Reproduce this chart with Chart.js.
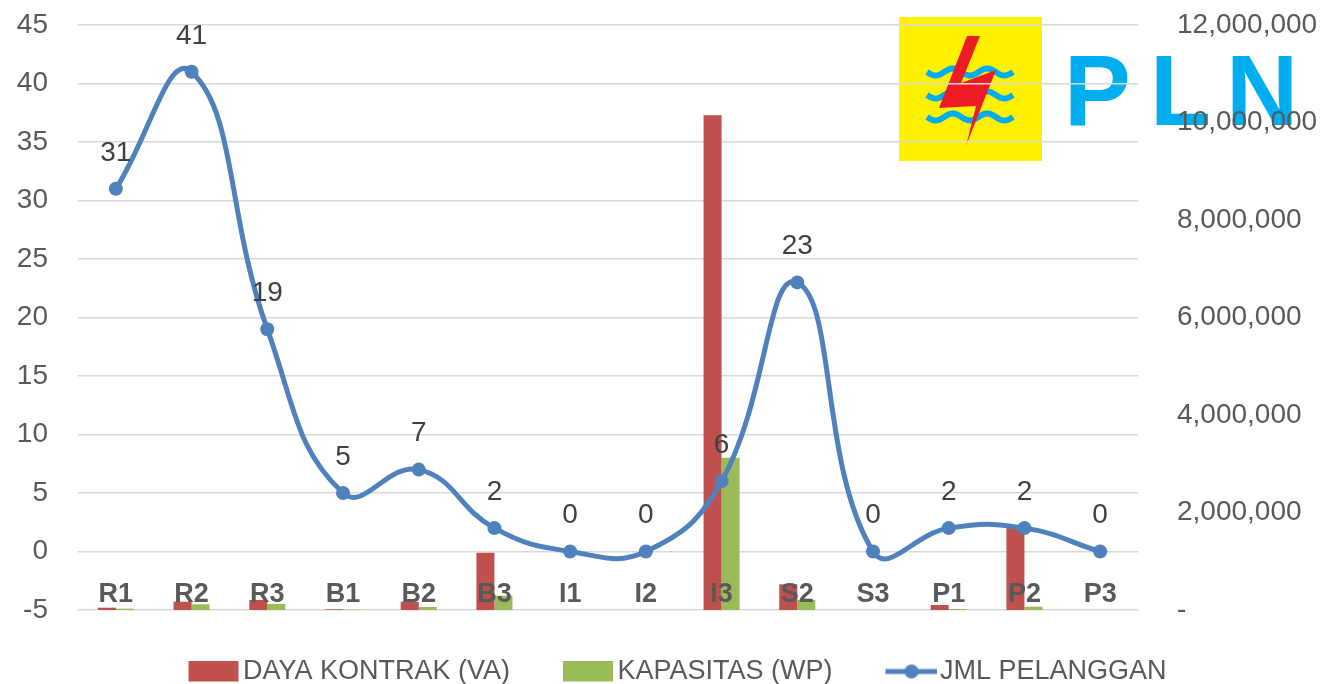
<!DOCTYPE html>
<html>
<head>
<meta charset="utf-8">
<script src="https://cdn.jsdelivr.net/npm/chart.js@4.4.1/dist/chart.umd.min.js"></script>
<style>
  html, body { margin: 0; padding: 0; background: #fff; }
  #wrap { width: 1324px; height: 684px; position: relative; }
</style>
</head>
<body>
<div id="wrap"><canvas id="chart"></canvas></div>
<script>
// categories and series
const categories = ['R1', 'R2', 'R3', 'B1', 'B2', 'B3', 'I1', 'I2', 'I3', 'S2', 'S3', 'P1', 'P2', 'P3'];
const dayaKontrak = [47000, 170000, 205000, 15000, 170000, 1175000, 0, 0, 10150000, 527000, 0, 103000, 1710000, 0];
const kapasitas = [27000, 117000, 123000, 10000, 62000, 293000, 0, 0, 3125000, 205000, 0, 20000, 68000, 0];
const jmlPelanggan = [31, 41, 19, 5, 7, 2, 0, 0, 6, 23, 0, 2, 2, 0];

// axis ranges
const leftMin = -5, leftMax = 45, leftStep = 5;
const rightMin = 0, rightMax = 12000000, rightStep = 2000000;

const RED = '#C0504D';
const GREEN = '#9BBB59';
const BLUE = '#4F81BD';
const FONT = '"Liberation Sans", Arial, sans-serif';

// legend swatches: pointStyleWidth is 74, the swatch image is centred at x+37,
// so the box lands at x+33..x+83 and the text starts ~5px after it
function makeSwatch(kind, color) {
    const c = document.createElement('canvas');
    const g = c.getContext('2d');
    if (kind === 'box') {
        c.width = 94;
        c.height = 22;
        g.fillStyle = color;
        g.fillRect(43, 0, 50, 21);
    } else {
        c.width = 96;
        c.height = 16;
        g.strokeStyle = color;
        g.lineWidth = 5;
        g.beginPath();
        g.moveTo(44, 8);
        g.lineTo(96, 8);
        g.stroke();
        g.fillStyle = color;
        g.beginPath();
        g.arc(70, 8, 7, 0, Math.PI * 2);
        g.fill();
    }
    return c;
}
const swatches = [makeSwatch('box', RED), makeSwatch('box', GREEN), makeSwatch('line', BLUE)];

// PLN logo in the top right corner, behind the grid
const plnLogo = {
    id: 'plnLogo',
    beforeDraw(chart) {
        const ctx = chart.ctx;
        ctx.save();
        ctx.fillStyle = '#FFF200';
        ctx.fillRect(899, 17, 143, 144);

        // waves
        ctx.strokeStyle = '#00AEEF';
        ctx.lineWidth = 6;
        [72, 95, 117].forEach(yc => {
            ctx.beginPath();
            for (let x = 927; x <= 1013; x += 1) {
                const y = yc + 3.5 * Math.sin((x - 927) / 86 * Math.PI * 5);
                if (x === 927) ctx.moveTo(x, y); else ctx.lineTo(x, y);
            }
            ctx.stroke();
        });

        // bolt
        ctx.fillStyle = '#ED1C24';
        ctx.beginPath();
        ctx.moveTo(967, 36);
        ctx.lineTo(980, 36);
        ctx.lineTo(961, 83);
        ctx.lineTo(996, 70);
        ctx.lineTo(966, 146);
        ctx.lineTo(976, 106);
        ctx.lineTo(939, 108);
        ctx.closePath();
        ctx.fill();

        // letters
        ctx.fillStyle = '#00AEEF';
        ctx.font = 'bold 100px ' + FONT;
        ctx.textBaseline = 'alphabetic';
        ctx.textAlign = 'left';
        ctx.fillText('P', 1064, 125);
        ctx.fillText('L', 1150, 125);
        ctx.fillText('N', 1226, 125);
        ctx.restore();
    },
    afterLayout(chart) {
        // nudge the legend row a little to the left, as in the original
        chart.legend.left -= 2;
    }
};

// value labels above the line points
const lineLabels = {
    id: 'lineLabels',
    afterDatasetsDraw(chart) {
        const meta = chart.getDatasetMeta(2);
        const ctx = chart.ctx;
        ctx.save();
        ctx.font = '28px ' + FONT;
        ctx.fillStyle = '#404040';
        ctx.textAlign = 'center';
        ctx.textBaseline = 'middle';
        meta.data.forEach((pt, i) => {
            ctx.fillText(String(jmlPelanggan[i]), pt.x, pt.y - 36);
        });
        ctx.restore();
    }
};

const ctx = document.getElementById('chart').getContext('2d');
new Chart(ctx, {
    type: 'bar',
    data: {
        labels: categories,
        datasets: [
            {
                label: 'DAYA KONTRAK (VA)',
                data: dayaKontrak,
                backgroundColor: RED,
                yAxisID: 'y2',
                order: 2,
                categoryPercentage: 0.476,
                barPercentage: 1
            },
            {
                label: 'KAPASITAS (WP)',
                data: kapasitas,
                backgroundColor: GREEN,
                yAxisID: 'y2',
                order: 2,
                categoryPercentage: 0.476,
                barPercentage: 1
            },
            {
                type: 'line',
                label: 'JML PELANGGAN',
                data: jmlPelanggan,
                borderColor: BLUE,
                backgroundColor: BLUE,
                borderWidth: 5,
                pointRadius: 7,
                pointBackgroundColor: BLUE,
                pointBorderWidth: 0,
                tension: 0.45,
                fill: false,
                yAxisID: 'y',
                order: 0
            }
        ]
    },
    options: {
        responsive: true,
        maintainAspectRatio: false,
        animation: false,
        layout: { padding: { top: 25, left: 0, right: 0, bottom: -11 } },
        scales: {
            x: {
                grid: { display: false, drawTicks: false },
                border: { display: false },
                ticks: {
                    z: 1,
                    color: '#595959',
                    font: { family: FONT, size: 27, weight: 'bold' },
                    mirror: true,
                    padding: -1,
                    maxRotation: 0,
                    autoSkip: false
                },
                afterFit: s => { s.height = 28; }
            },
            y: {
                position: 'left',
                min: leftMin,
                max: leftMax,
                grid: { color: '#D9D9D9', lineWidth: 1.5, drawTicks: true, tickLength: 30, tickColor: 'rgba(0,0,0,0)' },
                border: { display: false },
                ticks: {
                    stepSize: leftStep,
                    color: '#595959',
                    font: { family: FONT, size: 28 },
                    padding: 0
                },
                afterFit: s => { s.width = 78; }
            },
            y2: {
                position: 'right',
                min: rightMin,
                max: rightMax,
                grid: { display: false, drawTicks: true, tickLength: 39 },
                border: { display: false },
                ticks: {
                    stepSize: rightStep,
                    color: '#595959',
                    font: { family: FONT, size: 28 },
                    padding: 0,
                    callback: v => v === 0 ? '-' : v.toLocaleString('en-US')
                },
                afterFit: s => { s.width = 186; }
            }
        },
        plugins: {
            tooltip: { enabled: false },
            legend: {
                position: 'bottom',
                labels: {
                    usePointStyle: true,
                    pointStyleWidth: 74,
                    boxHeight: 21,
                    padding: 20,
                    color: '#595959',
                    font: { family: FONT, size: 27 },
                    sort: (a, b) => a.datasetIndex - b.datasetIndex,
                    generateLabels(chart) {
                        const items = Chart.defaults.plugins.legend.labels.generateLabels(chart);
                        items.forEach(it => { it.pointStyle = swatches[it.datasetIndex]; });
                        return items;
                    }
                }
            }
        }
    },
    plugins: [plnLogo, lineLabels]
});
</script>
</body>
</html>
